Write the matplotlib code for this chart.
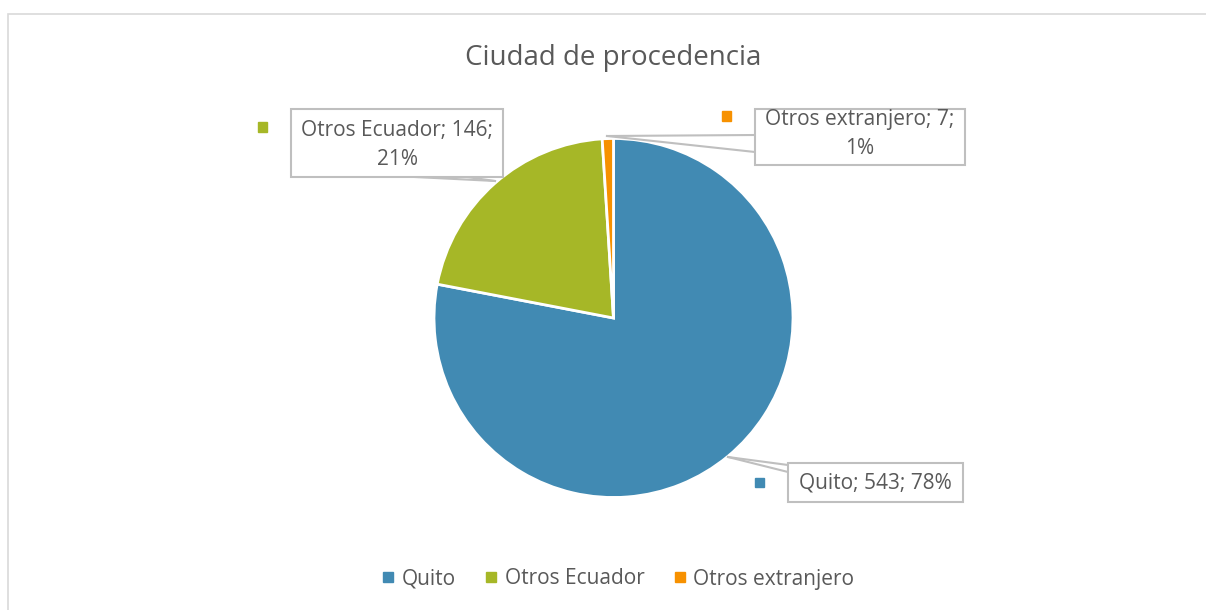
import matplotlib
matplotlib.use("Agg")
import matplotlib.pyplot as plt
from matplotlib.patches import Rectangle
from matplotlib.lines import Line2D

categories = ["Quito", "Otros Ecuador", "Otros extranjero"]
values = [543, 146, 7]
percents = ["78%", "21%", "1%"]
colors = ["#418AB3", "#A6B727", "#F79100"]
title = "Ciudad de procedencia"

plt.rcParams['font.family'] = ['Open Sans', 'DejaVu Sans']
W, H = 1206, 610
fig = plt.figure(figsize=(W / 100, H / 100), dpi=100)
txt_color = "#595959"

def fx(x):
    return x / W

def fy(y):
    return 1 - y / H

# outer chart border
fig.add_artist(Rectangle((fx(8), fy(660)), fx(1260), 646 / H, transform=fig.transFigure,
                         fill=False, edgecolor="#D9D9D9", lw=1.2))

# pie
cx, cy, r = 613.5, 318, 179.5
ax = fig.add_axes([fx(cx - r), fy(cy + r), 2 * r / W, 2 * r / H])
ax.pie(values, colors=colors, startangle=90, counterclock=False,
       wedgeprops=dict(edgecolor="white", linewidth=2), radius=1)
ax.set_xlim(-1, 1)
ax.set_ylim(-1, 1)
ax.axis("off")

fig.text(fx(613.5), fy(58), title, ha="center", va="center", fontsize=20, color=txt_color)

label_text = [f"{categories[0]}; {values[0]}; {percents[0]}",
              f"{categories[1]}; {values[1]};\n{percents[1]}",
              f"{categories[2]}; {values[2]};\n{percents[2]}"]
boxes = [(788, 463, 963, 502), (291, 109, 503, 177), (755, 109, 965, 165)]
text_y = [483, 145, 134]
tips = [(728, 457), (495, 181), (607, 136)]
bases = [[(788, 465), (788, 472)], [(415, 177), (467, 177)], [(755, 135), (755, 152)]]
keys = [(759, 482), (262, 127), (726, 116)]

for i in range(3):
    x0, y0, x1, y1 = boxes[i]
    fig.add_artist(Rectangle((fx(x0), fy(y1)), (x1 - x0) / W, (y1 - y0) / H,
                             transform=fig.transFigure, facecolor="white",
                             edgecolor="#BFBFBF", lw=1.5, zorder=5))
    for bx, by in bases[i]:
        fig.add_artist(Line2D([fx(tips[i][0]), fx(bx)], [fy(tips[i][1]), fy(by)],
                              transform=fig.transFigure, color="#BFBFBF", lw=1.5, zorder=4))
    fig.text(fx((x0 + x1) / 2), fy(text_y[i]), label_text[i], ha="center", va="center",
             fontsize=15, color=txt_color, linespacing=1.55, zorder=6)
    kx, ky = keys[i]
    fig.add_artist(Rectangle((fx(kx - 4.5), fy(ky + 4.5)), 9 / W, 9 / H,
                             transform=fig.transFigure, color=colors[i], zorder=6))

handles = [Line2D([], [], marker="s", linestyle="none", markersize=6.5,
                  markerfacecolor=c, markeredgecolor=c) for c in colors]
fig.legend(handles, categories, loc="center", bbox_to_anchor=(fx(616), fy(579)), ncol=3,
           frameon=False, fontsize=15, labelcolor=txt_color, handletextpad=0.15,
           columnspacing=1.2, handlelength=1.0)

fig.savefig("out.png", dpi=100, facecolor="white")
